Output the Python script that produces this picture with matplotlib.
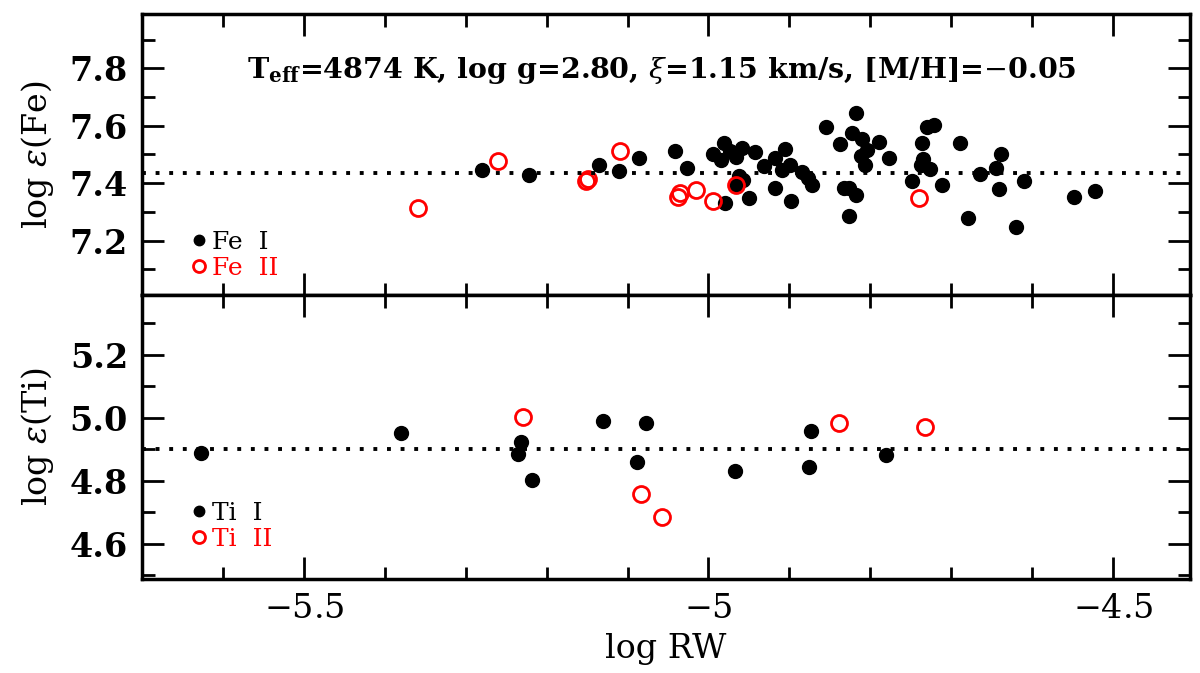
import matplotlib
matplotlib.use("Agg")
import matplotlib.pyplot as plt
from matplotlib.ticker import MultipleLocator

plt.rcParams['font.family'] = ['DejaVu Serif']
plt.rcParams['mathtext.fontset'] = 'dejavuserif'

# Fe I / Fe II abundances vs log RW
fe1_x = [-5.280, -5.222, -5.135, -5.110, -5.086, -5.041, -5.026, -4.980, -4.995, -4.981,
         -4.984, -4.973, -4.966, -4.958, -4.962, -4.957, -4.966, -4.942, -4.950, -4.932,
         -4.918, -4.905, -4.899, -4.909, -4.918, -4.898, -4.884, -4.877, -4.872, -4.855,
         -4.837, -4.818, -4.823, -4.810, -4.804, -4.812, -4.807, -4.789, -4.777, -4.832,
         -4.826, -4.818, -4.826, -4.748, -4.736, -4.735, -4.738, -4.730, -4.721, -4.726,
         -4.712, -4.689, -4.679, -4.664, -4.645, -4.638, -4.641, -4.620, -4.610, -4.548,
         -4.522]
fe1_y = [7.446, 7.427, 7.463, 7.443, 7.488, 7.513, 7.454, 7.332, 7.502, 7.539,
         7.481, 7.512, 7.490, 7.524, 7.425, 7.411, 7.391, 7.509, 7.349, 7.461,
         7.487, 7.518, 7.462, 7.446, 7.384, 7.339, 7.440, 7.417, 7.394, 7.597,
         7.535, 7.643, 7.575, 7.555, 7.517, 7.495, 7.465, 7.544, 7.488, 7.383,
         7.383, 7.357, 7.286, 7.409, 7.540, 7.485, 7.465, 7.596, 7.602, 7.448,
         7.394, 7.540, 7.278, 7.433, 7.454, 7.503, 7.380, 7.248, 7.407, 7.351,
         7.372]
fe2_x = [-5.359, -5.260, -5.151, -5.149, -5.109, -5.038, -5.035, -5.016, -4.995, -4.966, -4.740]
fe2_y = [7.314, 7.477, 7.409, 7.413, 7.512, 7.353, 7.365, 7.376, 7.338, 7.394, 7.348]
fe_mean = 7.435

# Ti I / Ti II
ti1_x = [-5.627, -5.380, -5.232, -5.235, -5.218, -5.130, -5.077, -5.088, -4.967, -4.873, -4.876, -4.781]
ti1_y = [4.888, 4.953, 4.922, 4.884, 4.802, 4.990, 4.983, 4.859, 4.831, 4.960, 4.844, 4.883]
ti2_x = [-5.229, -5.084, -5.058, -4.839, -4.732]
ti2_y = [5.004, 4.760, 4.687, 4.983, 4.971]
ti_mean = 4.90

title = r'T$_{\mathbf{eff}}$=4874 K, log g=2.80, $\xi$=1.15 km/s, [M/H]=$-$0.05'

fig = plt.figure(figsize=(12, 6.73), dpi=100)
ax1 = fig.add_axes([0.1183, 0.5617, 0.8734, 0.4175])
ax2 = fig.add_axes([0.1183, 0.1402, 0.8734, 0.4215], sharex=ax1)


def style(ax):
    for s in ax.spines.values():
        s.set_linewidth(2.5)
    ax.tick_params(which='both', direction='in', top=True, right=True, width=2)
    ax.tick_params(which='major', length=16, labelsize=24, pad=10)
    ax.tick_params(which='minor', length=9)
    ax.xaxis.set_major_locator(MultipleLocator(0.5))
    ax.xaxis.set_minor_locator(MultipleLocator(0.1))
    ax.yaxis.set_major_locator(MultipleLocator(0.2))
    ax.yaxis.set_minor_locator(MultipleLocator(0.1))
    for lab in ax.get_yticklabels():
        lab.set_fontweight('bold')


ms_fill = 10
ms_open = 11.5
leg_kw = dict(loc='lower left', frameon=False, fontsize=18, handlelength=0.4,
              handletextpad=0.3, labelspacing=0.1, markerscale=0.75,
              labelcolor=['black', 'red'], borderpad=0)

ax1.plot(fe1_x, fe1_y, 'o', color='black', ms=ms_fill, ls='none', label='Fe  I')
ax1.plot(fe2_x, fe2_y, 'o', color='red', mfc='none', mew=2, ms=ms_open, ls='none', label='Fe  II')
ax1.axhline(fe_mean, color='black', ls=(0, (1, 2.5)), lw=2.8)
ax1.set_xlim(-5.70, -4.405)
ax1.set_ylim(7.01, 7.99)
style(ax1)
ax1.tick_params(labelbottom=False)
ax1.set_ylabel(r'log $\epsilon$(Fe)', fontsize=24, labelpad=10)
ax1.text(0.496, 0.80, title, transform=ax1.transAxes, ha='center', va='center',
         fontsize=20.5, fontweight='bold')
ax1.legend(bbox_to_anchor=(0.038, 0.01), **leg_kw)

ax2.plot(ti1_x, ti1_y, 'o', color='black', ms=ms_fill, ls='none', label='Ti  I')
ax2.plot(ti2_x, ti2_y, 'o', color='red', mfc='none', mew=2, ms=ms_open, ls='none', label='Ti  II')
ax2.axhline(ti_mean, color='black', ls=(0, (1, 2.5)), lw=2.8)
ax2.set_ylim(4.49, 5.39)
style(ax2)
ax2.set_ylabel(r'log $\epsilon$(Ti)', fontsize=24, labelpad=10)
ax2.set_xlabel('log RW', fontsize=24, labelpad=6)
ax2.set_xticks([-5.5, -5.0, -4.5])
ax2.set_xticklabels([r'$-$5.5', r'$-$5', r'$-$4.5'])
ax2.legend(bbox_to_anchor=(0.038, 0.055), **leg_kw)

fig.align_ylabels([ax1, ax2])
fig.savefig('out.png', dpi=100)
